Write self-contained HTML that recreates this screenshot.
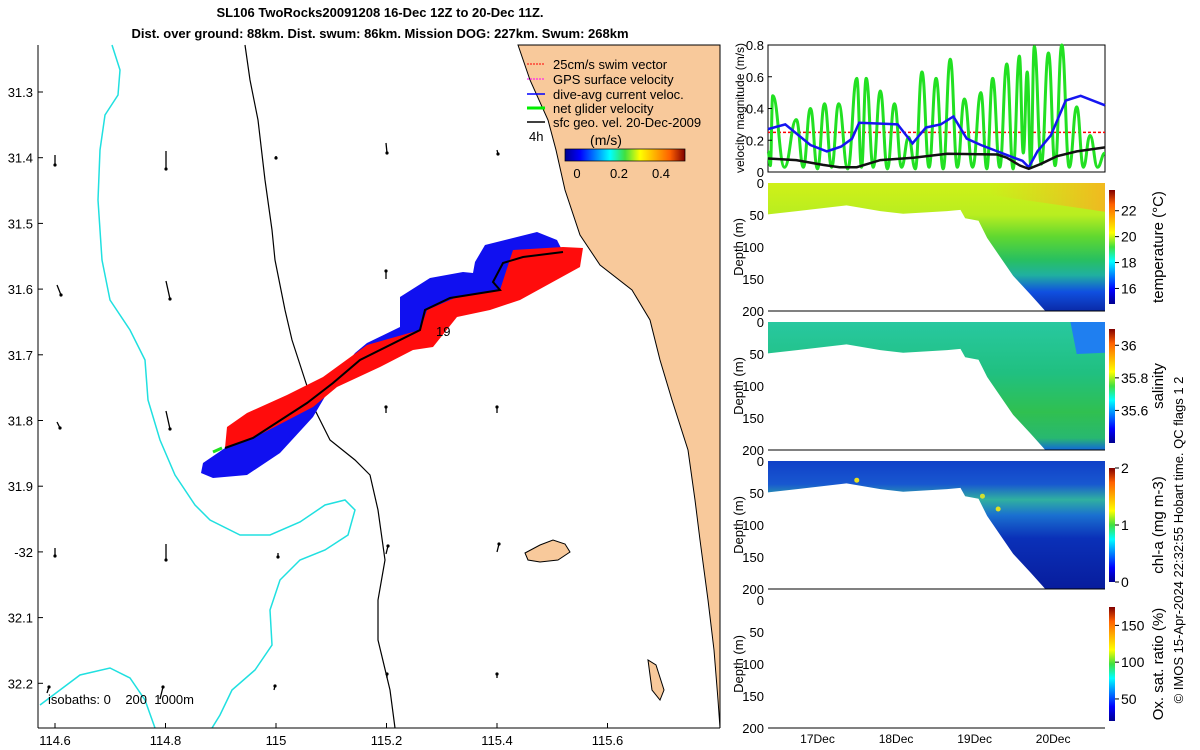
<!DOCTYPE html>
<html><head><meta charset="utf-8">
<style>
body{margin:0;background:#fff;}
svg{display:block;font-family:"Liberation Sans","DejaVu Sans",sans-serif;}
</style></head>
<body>
<svg id="root" width="1200" height="750" viewBox="0 0 1200 750" xmlns="http://www.w3.org/2000/svg">
<defs>
<linearGradient id="jet" x1="0" y1="0" x2="1" y2="0">
<stop offset="0" stop-color="#00008f"/><stop offset="0.125" stop-color="#0000ff"/><stop offset="0.375" stop-color="#00ffff"/><stop offset="0.5" stop-color="#40e040"/><stop offset="0.625" stop-color="#ffff00"/><stop offset="0.875" stop-color="#ff6000"/><stop offset="1" stop-color="#800000"/>
</linearGradient>
<linearGradient id="jetv" x1="0" y1="1" x2="0" y2="0">
<stop offset="0" stop-color="#00008f"/><stop offset="0.125" stop-color="#0000ff"/><stop offset="0.375" stop-color="#00ffff"/><stop offset="0.5" stop-color="#40e040"/><stop offset="0.625" stop-color="#ffff00"/><stop offset="0.875" stop-color="#ff6000"/><stop offset="1" stop-color="#800000"/>
</linearGradient>
<linearGradient id="tempG" gradientUnits="userSpaceOnUse" x1="0" y1="183" x2="0" y2="311">
<stop offset="0" stop-color="#d0f018"/><stop offset="0.25" stop-color="#b8ee20"/><stop offset="0.42" stop-color="#60d830"/><stop offset="0.6" stop-color="#28c060"/><stop offset="0.72" stop-color="#20b0a0"/><stop offset="0.85" stop-color="#1050e0"/><stop offset="1" stop-color="#0a2aa8"/>
</linearGradient>
<linearGradient id="tempH" gradientUnits="userSpaceOnUse" x1="990" y1="0" x2="1105" y2="0">
<stop offset="0" stop-color="#f0c020" stop-opacity="0"/><stop offset="1" stop-color="#f8b020" stop-opacity="0.85"/>
</linearGradient>
<linearGradient id="salG" gradientUnits="userSpaceOnUse" x1="0" y1="322" x2="0" y2="451">
<stop offset="0" stop-color="#28c8a0"/><stop offset="0.4" stop-color="#20c080"/><stop offset="0.7" stop-color="#30c050"/><stop offset="0.9" stop-color="#28b870"/><stop offset="1" stop-color="#1060e0"/>
</linearGradient>
<linearGradient id="chlG" gradientUnits="userSpaceOnUse" x1="0" y1="461" x2="0" y2="590">
<stop offset="0" stop-color="#1040c8"/><stop offset="0.18" stop-color="#1858d0"/><stop offset="0.3" stop-color="#30b0a0"/><stop offset="0.42" stop-color="#1a70d0"/><stop offset="0.6" stop-color="#0a30b8"/><stop offset="1" stop-color="#081c9c"/>
</linearGradient>
</defs>

<text x="380" y="17" text-anchor="middle" font-size="13" font-weight="bold">SL106 TwoRocks20091208 16-Dec 12Z to 20-Dec 11Z.</text>
<text x="380" y="38" text-anchor="middle" font-size="13" font-weight="bold">Dist. over ground: 88km. Dist. swum: 86km. Mission DOG: 227km. Swum: 268km</text>

<g>
<rect x="38" y="45" width="682" height="683" fill="#fff"/>
<path d="M518,45 L530,80 L548,120 L556,150 L565,190 L580,235 L600,265 L632,290 L650,320 L660,360 L672,400 L688,450 L695,500 L700,540 L708,600 L714,650 L718,700 L720,728 L720,45 Z" fill="#f8c99b" stroke="#000" stroke-width="1"/>
<path d="M525,553 L540,545 L553,540 L565,544 L570,552 L558,560 L540,562 L528,560 Z" fill="#f8c99b" stroke="#000"/>
<path d="M648,660 L652,690 L660,700 L664,690 L656,665 Z" fill="#f8c99b" stroke="#000"/>
<polyline points="245,45 250,80 258,120 265,180 272,230 275,260 285,310 292,340 305,380 315,410 330,440 355,460 370,475 378,510 385,560 378,600 378,640 390,690 395,728" fill="none" stroke="#000" stroke-width="1.2"/>
<polyline points="112,45 120,70 118,95 105,115 100,150 98,200 102,260 110,300 130,330 145,360 148,400 160,440 175,475 195,505 210,520 240,535 270,535 300,522 325,505 345,500 355,510 348,535 325,550 300,560 280,580 270,610 272,645 255,670 232,690 220,715 212,728" fill="none" stroke="#20e0e0" stroke-width="1.5"/>
<polyline points="40,705 60,690 80,675 110,668 130,678 145,700 155,728" fill="none" stroke="#20e0e0" stroke-width="1.5"/>
<polygon points="201,473 203,463 225,448 307,403 337,375 355,353 367,343 400,327 400,297 430,278 463,272 473,273 475,262 485,245 537,232 557,240 563,252 523,257 500,290 420,330 333,383 313,417 280,453 247,475 213,478" fill="#1010f0"/>
<polygon points="225,448 227,427 247,413 287,395 323,377 367,345 420,330 427,310 457,297 500,290 513,250 563,247 583,248 580,267 520,300 490,310 457,317 433,347 413,350 380,367 337,387 313,407 263,433" fill="#ff0c0c"/>
<polyline points="225,448 253,438 307,403 333,383 360,360 420,330 425,310 450,298 500,290 493,282 503,263 523,257 563,252" fill="none" stroke="#000" stroke-width="2"/>
<line x1="213" y1="452" x2="222" y2="448" stroke="#20e020" stroke-width="3"/>
<text x="436" y="336" font-size="13">19</text>
<g id="arrows"></g>
<g>
<line x1="527" y1="64" x2="545" y2="64" stroke="#f00" stroke-dasharray="2,1"/>
<text x="553" y="69" font-size="13">25cm/s swim vector</text>
<line x1="527" y1="79" x2="545" y2="79" stroke="#f0f" stroke-dasharray="2,1"/>
<text x="553" y="84" font-size="13">GPS surface velocity</text>
<line x1="527" y1="94" x2="545" y2="94" stroke="#00f" stroke-width="1.5"/>
<text x="553" y="99" font-size="13">dive-avg current veloc.</text>
<line x1="527" y1="108" x2="545" y2="108" stroke="#0e0" stroke-width="3"/>
<text x="553" y="113" font-size="13">net glider velocity</text>
<line x1="527" y1="122" x2="545" y2="122" stroke="#000" stroke-width="1.5"/>
<text x="553" y="127" font-size="13">sfc geo. vel. 20-Dec-2009</text>
<text x="529" y="141" font-size="13">4h</text>
<text x="606" y="145" font-size="14" text-anchor="middle">(m/s)</text>
<rect x="565" y="149" width="120" height="12" fill="url(#jet)" stroke="#000" stroke-width="0.7"/>
<text x="577" y="178" font-size="13" text-anchor="middle">0</text>
<text x="619" y="178" font-size="13" text-anchor="middle">0.2</text>
<text x="661" y="178" font-size="13" text-anchor="middle">0.4</text>
</g>
<text x="48" y="704" font-size="13" style="white-space:pre" xml:space="preserve">isobaths: 0    200  1000m</text>
<line x1="38" y1="45" x2="38" y2="728" stroke="#000" stroke-width="1"/>
<line x1="38" y1="728" x2="720" y2="728" stroke="#000" stroke-width="1"/>
<g id="mapticks"></g>
</g>

<g id="vel">
<rect x="768" y="45" width="337" height="127" fill="none" stroke="#000" stroke-width="1"/>
<text transform="translate(744,108) rotate(-90)" text-anchor="middle" font-size="12">velocity magnitude (m/s)</text>
</g>

<g id="sections"></g>

<text transform="translate(1183,540) rotate(-90)" text-anchor="middle" font-size="13">© IMOS 15-Apr-2024 22:32:55 Hobart time. QC flags 1  2</text>
</svg>

<script>
const NS="http://www.w3.org/2000/svg";
function mk(tag,attrs,parent){const e=document.createElementNS(NS,tag);for(const k in attrs)e.setAttribute(k,attrs[k]);parent.appendChild(e);return e;}

const greenPeakDays=[16.43,16.73,16.91,17.09,17.27,17.50,17.62,17.80,17.98,18.16,18.33,18.51,18.69,18.87,19.08,19.23,19.41,19.57,19.67,19.76,19.94,20.11,20.30,20.47];
const greenPeakVals=[0.48,0.33,0.40,0.43,0.43,0.59,0.59,0.51,0.43,0.22,0.63,0.59,0.71,0.46,0.50,0.59,0.68,0.73,0.63,0.79,0.75,0.80,0.41,0.23];
const greenTroughVals=[0.04,0.03,0.03,0.02,0.03,0.02,0.03,0.03,0.02,0.03,0.02,0.03,0.02,0.03,0.03,0.02,0.03,0.02,0.12,0.04,0.05,0.04,0.03,0.03];
const blueDays=[16.37,16.59,16.91,17.12,17.30,17.44,17.53,18.02,18.21,18.38,18.57,18.73,18.90,19.08,19.29,19.50,19.61,19.69,19.80,19.97,20.16,20.35,20.66];
const blueVals=[0.27,0.30,0.17,0.13,0.16,0.21,0.31,0.30,0.18,0.28,0.30,0.35,0.21,0.17,0.13,0.09,0.07,0.03,0.13,0.23,0.45,0.48,0.42];
const blackDays=[16.37,16.73,17.07,17.28,17.50,17.80,18.22,18.65,19.29,19.41,19.58,19.69,19.84,20.05,20.30,20.66];
const blackVals=[0.085,0.075,0.045,0.03,0.03,0.075,0.09,0.115,0.11,0.09,0.04,0.02,0.05,0.10,0.13,0.155];
const swimSpeed=0.25;
const velTicks=[0,0.2,0.4,0.6,0.8];
const dayTicks=[17,18,19,20];
const dayTickLabels=["17Dec","18Dec","19Dec","20Dec"];
const bottomDays=[16.35,16.74,17.37,17.80,18.09,18.65,18.82,18.88,19.05,19.16,19.49,19.71,19.90,20.66];
const bottomDepths=[49,44,35,44,48,44,42,55,59,86,145,174,200,200];
const depthTicks=[0,50,100,150,200];

const X0=768,X1=1105,D0=16.37,D1=20.66;
const xs=d=>X0+(d-D0)/(D1-D0)*(X1-X0);
const vy=v=>172-v/0.8*127;

const vel=document.getElementById('vel');
let l=mk('line',{x1:X0,x2:X1,y1:vy(swimSpeed),y2:vy(swimSpeed),stroke:'#f00','stroke-dasharray':'3,2','stroke-width':1.5},vel);


let pts=[[D0,0.13]];
for(let i=0;i<greenPeakDays.length;i++){
  const prev=i==0?D0:greenPeakDays[i-1];
  pts.push([(prev+greenPeakDays[i])/2,greenTroughVals[i]]);
  pts.push([greenPeakDays[i],greenPeakVals[i]]);
}
pts.push([(greenPeakDays[greenPeakDays.length-1]+D1)/2,0.03]);
pts.push([D1,0.12]);
let d='M'+xs(pts[0][0])+','+vy(pts[0][1]);
for(let i=1;i<pts.length;i++){
  const a=pts[i-1],b2=pts[i];
  const ax=xs(a[0]),bx=xs(b2[0]),w=(bx-ax)*0.45;
  d+=` C${ax+w},${vy(a[1])} ${bx-w},${vy(b2[1])} ${bx},${vy(b2[1])}`;
}
let g=mk('path',{d:d,fill:'none',stroke:'#22e022','stroke-width':3},vel);


let b=mk('polyline',{points:blueDays.map((t,i)=>xs(t)+','+vy(blueVals[i])).join(' '),fill:'none',stroke:'#1515f0','stroke-width':2.5},vel);


let k=mk('polyline',{points:blackDays.map((t,i)=>xs(t)+','+vy(blackVals[i])).join(' '),fill:'none',stroke:'#111','stroke-width':2.5},vel);


velTicks.forEach(v=>{
  const t=mk('text',{x:764,y:vy(v)+5,'text-anchor':'end','font-size':13},vel);t.textContent=String(v);
  
  
  mk('line',{x1:X0,x2:X0+4,y1:vy(v),y2:vy(v),stroke:'#000'},vel);
});

const sec=document.getElementById('sections');
const panels=[
 {top:183,fill:'url(#tempG)',name:'temperature',label:'temperature (°C)',cbTicks:[16,18,20,22],cbMin:14.8,cbMax:23.6,data:true},
 {top:322,fill:'url(#salG)',name:'salinity',label:'salinity',cbTicks:[35.6,35.8,36],cbMin:35.4,cbMax:36.1,data:true},
 {top:461,fill:'url(#chlG)',name:'chl-a',label:'chl-a (mg m-3)',cbTicks:[0,1,2],cbMin:0,cbMax:2,data:true},
 {top:600,fill:'none',name:'oxygen',label:'Ox. sat. ratio (%)',cbTicks:[50,100,150],cbMin:20,cbMax:175,data:false}
];
const H=128;
panels.forEach((p,pi)=>{
  const dy=z=>p.top+z/200*H;
  if(p.data){
    let poly='M'+xs(D0)+','+dy(0)+' L'+xs(D1)+','+dy(0);
    for(let i=bottomDays.length-1;i>=0;i--) poly+=' L'+xs(Math.max(D0,bottomDays[i]))+','+dy(bottomDepths[i]);
    poly+='Z';
    const e=mk('path',{d:poly,fill:p.fill},sec);
    
    
    if(pi==0){const o=mk('path',{d:`M${xs(19.0)},${dy(0)} L${xs(D1)},${dy(0)} L${xs(D1)},${dy(45)} L${xs(19.0)},${dy(15)} Z`,fill:'url(#tempH)'},sec);}
    if(pi==1){const o=mk('path',{d:`M${xs(20.22)},${dy(0)} L${xs(D1)},${dy(0)} L${xs(D1)},${dy(48)} L${xs(20.3)},${dy(50)} Z`,fill:'#1f7ff0'},sec);}
  }
  const ax=mk('line',{x1:X0,x2:X1,y1:p.top+H,y2:p.top+H,stroke:'#000'},sec);
  
  
  depthTicks.forEach(z=>{
    const t=mk('text',{x:764,y:dy(z)+5,'text-anchor':'end','font-size':13},sec);t.textContent=String(z);
    
    
  });
  const yl=mk('text',{transform:`translate(743,${p.top+H/2}) rotate(-90)`,'text-anchor':'middle','font-size':13},sec);yl.textContent='Depth (m)';
  
  
  const cbTop=p.top+7,cbH=H-14;
  const cb=mk('rect',{x:1109,y:cbTop,width:6,height:cbH,fill:'url(#jetv)'},sec);
  
  
  p.cbTicks.forEach(v=>{
    const y=cbTop+cbH-(v-p.cbMin)/(p.cbMax-p.cbMin)*cbH;
    mk('line',{x1:1115,x2:1119,y1:y,y2:y,stroke:'#000'},sec);
    const t=mk('text',{x:1121,y:y+5,'font-size':14},sec);t.textContent=String(v);
    
    
  });
  const cl=mk('text',{transform:`translate(1163,${p.top+H/2}) rotate(-90)`,'text-anchor':'middle','font-size':15},sec);cl.textContent=p.label;
  
  
});
dayTicks.forEach((t,i)=>{
  const e=mk('text',{x:xs(t),y:743,'text-anchor':'middle','font-size':12},sec);e.textContent=dayTickLabels[i];
  
  
});

[[17.5,30,'#e8e020'],[19.1,55,'#d0e030'],[19.3,75,'#e0e020']].forEach(c=>{
  const e=mk('circle',{cx:xs(c[0]),cy:461+c[1]/200*H,r:2.5,fill:c[2]},sec);
  
  
});

const lonTicks=[114.6,114.8,115,115.2,115.4,115.6];
const latTicks=[31.3,31.4,31.5,31.6,31.7,31.8,31.9,-32,32.1,32.2];
const mt=document.getElementById('mapticks');
const lonX=v=>55+(v-114.6)/0.2*110.5;
lonTicks.forEach(v=>{
  const t=mk('text',{x:lonX(v),y:745,'text-anchor':'middle','font-size':13},mt);t.textContent=String(v);
  
  
  mk('line',{x1:lonX(v),x2:lonX(v),y1:728,y2:723,stroke:'#000'},mt);
});
latTicks.forEach((v,i)=>{
  const y=92+i*65.7;
  const t=mk('text',{x:33,y:y+5,'text-anchor':'end','font-size':13},mt);t.textContent=String(v);
  
  
  mk('line',{x1:38,x2:43,y1:y,y2:y,stroke:'#000'},mt);
});

const arrowList=[[55,160,0,10],[166,160,0,18],[276,157,0,2],[386,148,1,10],[497,152,1,4],
 [57,290,4,10],[166,290,4,18],[386,275,0,-8],[57,425,3,6],[166,420,4,18],[386,410,0,-6],[497,410,0,-6],
 [55,552,0,8],[166,552,0,16],[278,555,0,4],[386,550,2,-8],[497,548,2,-8],
 [47,690,2,-6],[160,693,3,-12],[274,688,1,-4],[387,676,0,-4],[497,676,0,-4]];
const ar=document.getElementById('arrows');
arrowList.forEach(a=>{
  const e=mk('line',{x1:a[0],y1:a[1]-a[3]/2,x2:a[0]+a[2],y2:a[1]+a[3]/2,stroke:'#000','stroke-width':1.3},ar);
  
  
  const c=mk('circle',{cx:a[0]+a[2],cy:a[1]+a[3]/2,r:1.6,fill:'#000'},ar);
  
  
});
</script>
</body></html>
